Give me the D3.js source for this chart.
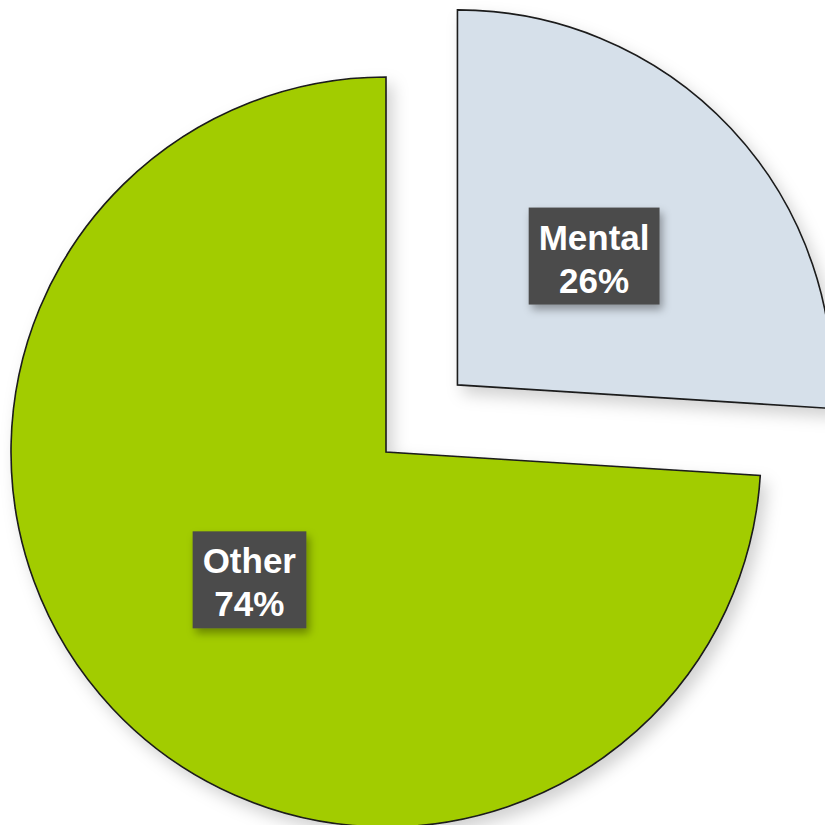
<!DOCTYPE html>
<html>
<head>
<meta charset="utf-8">
<script src="https://cdn.jsdelivr.net/npm/d3@7"></script>
<style>
  html, body { margin: 0; padding: 0; background: #ffffff; }
  svg { display: block; }
</style>
</head>
<body>
<script>
// Share of cases by category
const categories = ["Mental", "Other"];
const shares = [26, 74];
const sliceColors = ["#d6e0ea", "#a2cc00"];
const explodeOffsets = [98, 0];

const W = 825, H = 825;
const cx = 386, cy = 452, R = 375;

const svg = d3.select("body").append("svg")
  .attr("width", W).attr("height", H);

const defs = svg.append("defs");
const sliceShadow = defs.append("filter").attr("id", "sliceShadow")
  .attr("x", "-20%").attr("y", "-20%").attr("width", "140%").attr("height", "140%");
sliceShadow.append("feDropShadow")
  .attr("dx", 6).attr("dy", 8).attr("stdDeviation", 8)
  .attr("flood-color", "#000").attr("flood-opacity", 0.18);

const boxShadow = defs.append("filter").attr("id", "boxShadow")
  .attr("x", "-30%").attr("y", "-30%").attr("width", "160%").attr("height", "160%");
boxShadow.append("feDropShadow")
  .attr("dx", 3).attr("dy", 5).attr("stdDeviation", 4)
  .attr("flood-color", "#000").attr("flood-opacity", 0.35);

const data = categories.map((c, i) => ({ name: c, value: shares[i], color: sliceColors[i], offset: explodeOffsets[i] }));

const pie = d3.pie().sort(null).value(d => d.value);
const arcs = pie(data);
const arc = d3.arc().innerRadius(0).outerRadius(R);

const root = svg.append("g").attr("transform", `translate(${cx},${cy})`);

const slices = root.selectAll("g.slice").data(arcs).join("g")
  .attr("class", "slice")
  .attr("transform", d => {
    const mid = (d.startAngle + d.endAngle) / 2;
    return `translate(${Math.sin(mid) * d.data.offset},${-Math.cos(mid) * d.data.offset})`;
  });

slices.append("path")
  .attr("d", arc)
  .attr("fill", d => d.data.color)
  .attr("stroke", "#1a1a1a")
  .attr("stroke-width", 1.6)
  .attr("stroke-linejoin", "miter")
  .attr("filter", "url(#sliceShadow)");

// Value labels: dark boxes at the slice centroids
const labels = slices.append("g")
  .attr("transform", d => {
    const [x, y] = arc.centroid(d);
    return `translate(${x},${y})`;
  });

labels.each(function(d) {
  const g = d3.select(this);
  const rect = g.append("rect").attr("fill", "#4b4b4b").attr("filter", "url(#boxShadow)");
  const text = g.append("text")
    .attr("text-anchor", "middle")
    .attr("fill", "#ffffff")
    .attr("font-family", "Liberation Sans, Arial, sans-serif")
    .attr("font-weight", "bold")
    .attr("font-size", 35);
  text.append("tspan").attr("x", 0).attr("y", -7).text(d.data.name);
  text.append("tspan").attr("x", 0).attr("y", 36).text(d.data.value + "%");
  const bb = text.node().getBBox();
  const padX = 10;
  rect.attr("x", bb.x - padX)
    .attr("y", -49)
    .attr("width", bb.width + padX * 2)
    .attr("height", 97);
});
</script>
</body>
</html>
